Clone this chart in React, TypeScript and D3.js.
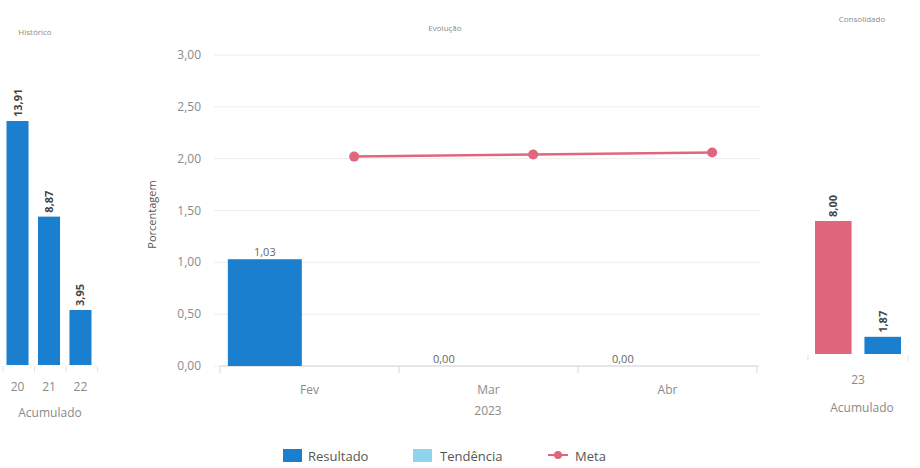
import React from "react";
import * as d3 from "d3";

const histCategories = ["20", "21", "22"];
const histValues = [13.91, 8.87, 3.95];
const histLabels = ["13,91", "8,87", "3,95"];

const evoCategories = ["Fev", "Mar", "Abr"];
const resultado = [1.03, 0, 0];
const resultadoLabels = ["1,03", "0,00", "0,00"];
const meta = [2.02, 2.04, 2.06];
const yTicks = [0, 0.5, 1, 1.5, 2, 2.5, 3];
const yTickLabels = ["0,00", "0,50", "1,00", "1,50", "2,00", "2,50", "3,00"];
const seriesNames = ["Resultado", "Tendência", "Meta"];

const consCategory = ["23"];
const consValues = [8.0, 1.87];
const consLabels = ["8,00", "1,87"];

const BLUE = "#1b7fd0";
const PINK = "#e0667e";
const LIGHTBLUE = "#8fd3ec";
const GRAY = "#8a8a8a";
const FONT = "'Open Sans', 'Noto Sans', sans-serif";

export default function App() {
  // Left panel
  const hx = d3.scaleBand().domain(histCategories).range([6.5, 91.5]).paddingInner(0.3).paddingOuter(0);
  const hy = d3.scaleLinear().domain([1.05, 13.91]).range([365, 121]);

  // Middle panel
  const ex = d3.scaleBand().domain(evoCategories).range([220, 757]);
  const inner = d3.scaleBand().domain(seriesNames).range([-67, 67]);
  const ey = d3.scaleLinear().domain([0, 3]).range([366, 55]);
  const barW = 74;
  const xRes = (c: string) => (ex(c) as number) + ex.bandwidth() / 2 + (inner("Resultado") as number) + inner.bandwidth() / 2;
  const xMeta = (c: string) => (ex(c) as number) + ex.bandwidth() / 2 + (inner("Meta") as number) + inner.bandwidth() / 2;
  const metaLine = d3
    .line<number>()
    .x((_, i) => xMeta(evoCategories[i]))
    .y((d) => ey(d));

  // Right panel
  const cx = d3.scaleBand().domain(consCategory).range([808, 908]);
  const csub = d3.scaleBand().domain(["a", "b"]).range([815, 901]).paddingInner(0.26);
  const cy = d3.scaleLinear().domain([0.96, 8]).range([354, 221]);
  const consColors = [PINK, BLUE];

  return (
    <div style={{ position: "absolute", left: 0, top: 0 }}>
      <svg width={920} height={468} style={{ display: "block", background: "#fff" }} fontFamily={FONT}>
        {/* Left: Histórico */}
        <text x={35} y={35} fontSize={8} fill={GRAY} textAnchor="middle">Histórico</text>
        {histCategories.map((c, i) => {
          const x = hx(c) as number;
          const y = hy(histValues[i]);
          return (
            <g key={c}>
              <rect x={x} y={y} width={hx.bandwidth()} height={hy(1.05) - y} fill={BLUE} />
              <text
                transform={`translate(${x + hx.bandwidth() / 2 + 4},${y - 4}) rotate(-90)`}
                fontSize={11}
                fontWeight="bold"
                fill="#444"
              >
                {histLabels[i]}
              </text>
              <text x={x + hx.bandwidth() / 2} y={391} fontSize={12} fill={GRAY} textAnchor="middle">{c}</text>
            </g>
          );
        })}
        {[0, 1, 2, 3].map((k) => {
          const x = 3 + k * hx.step();
          return <line key={k} x1={x} x2={x} y1={366} y2={372} stroke="#e3e3e3" />;
        })}
        <text x={50} y={417} fontSize={12} fill={GRAY} textAnchor="middle">Acumulado</text>

        {/* Middle: Evolução */}
        <text x={445} y={31} fontSize={8} fill={GRAY} textAnchor="middle">Evolução</text>
        {yTicks.map((t, i) => (
          <g key={t}>
            <line x1={214} x2={760} y1={ey(t)} y2={ey(t)} stroke="#ececec" />
            <text x={201} y={ey(t) + 4} fontSize={12} fill={GRAY} textAnchor="end">{yTickLabels[i]}</text>
          </g>
        ))}
        <text
          transform={`translate(156,${(ey(0) + ey(3)) / 2 + 4}) rotate(-90)`}
          fontSize={11}
          fill="#555"
          textAnchor="middle"
        >
          Porcentagem
        </text>
        <line x1={220} x2={757} y1={ey(0)} y2={ey(0)} stroke="#d8d8d8" />
        {[0, 1, 2, 3].map((k) => {
          const x = 220 + k * ex.step();
          return <line key={k} x1={x} x2={x} y1={ey(0)} y2={ey(0) + 7} stroke="#d8d8d8" />;
        })}
        {evoCategories.map((c, i) => {
          const xc = xRes(c);
          const y = ey(resultado[i]);
          return (
            <g key={c}>
              <rect x={xc - barW / 2} y={y} width={barW} height={ey(0) - y} fill={BLUE} />
              <text x={xc} y={y - 3} fontSize={11} fill="#666" textAnchor="middle">{resultadoLabels[i]}</text>
              <text x={(ex(c) as number) + ex.bandwidth() / 2} y={394} fontSize={12} fill={GRAY} textAnchor="middle">{c}</text>
            </g>
          );
        })}
        <path d={metaLine(meta) || ""} fill="none" stroke={PINK} strokeWidth={2.5} />
        {meta.map((m, i) => (
          <circle key={i} cx={xMeta(evoCategories[i])} cy={ey(m)} r={5} fill={PINK} />
        ))}
        <text x={488} y={415} fontSize={12} fill={GRAY} textAnchor="middle">2023</text>

        {/* Right: Consolidado */}
        <text x={862} y={22} fontSize={8} fill={GRAY} textAnchor="middle">Consolidado</text>
        {consValues.map((v, i) => {
          const key = i === 0 ? "a" : "b";
          const x = csub(key) as number;
          const y = cy(v);
          return (
            <g key={key}>
              <rect x={x} y={y} width={csub.bandwidth()} height={cy(0.96) - y} fill={consColors[i]} />
              <text
                transform={`translate(${x + csub.bandwidth() / 2 + 4},${y - 4}) rotate(-90)`}
                fontSize={11}
                fontWeight="bold"
                fill="#444"
              >
                {consLabels[i]}
              </text>
            </g>
          );
        })}
        <line x1={808} x2={808} y1={355} y2={361} stroke="#e3e3e3" />
        <line x1={908} x2={908} y1={355} y2={361} stroke="#e3e3e3" />
        <text x={(cx("23") as number) + cx.bandwidth() / 2} y={384} fontSize={12} fill={GRAY} textAnchor="middle">23</text>
        <text x={862} y={412} fontSize={12} fill={GRAY} textAnchor="middle">Acumulado</text>

        {/* Legend */}
        <g fontSize={13} fill="#555" fontWeight={500}>
          <rect x={283} y={449} width={19} height={13} fill={BLUE} />
          <text x={308} y={461}>{seriesNames[0]}</text>
          <rect x={413} y={449} width={19} height={13} fill={LIGHTBLUE} />
          <text x={440} y={461}>{seriesNames[1]}</text>
          <line x1={548} x2={568} y1={455} y2={455} stroke={PINK} strokeWidth={2} />
          <circle cx={558} cy={455} r={4} fill={PINK} />
          <text x={575} y={461}>{seriesNames[2]}</text>
        </g>
      </svg>
    </div>
  );
}
